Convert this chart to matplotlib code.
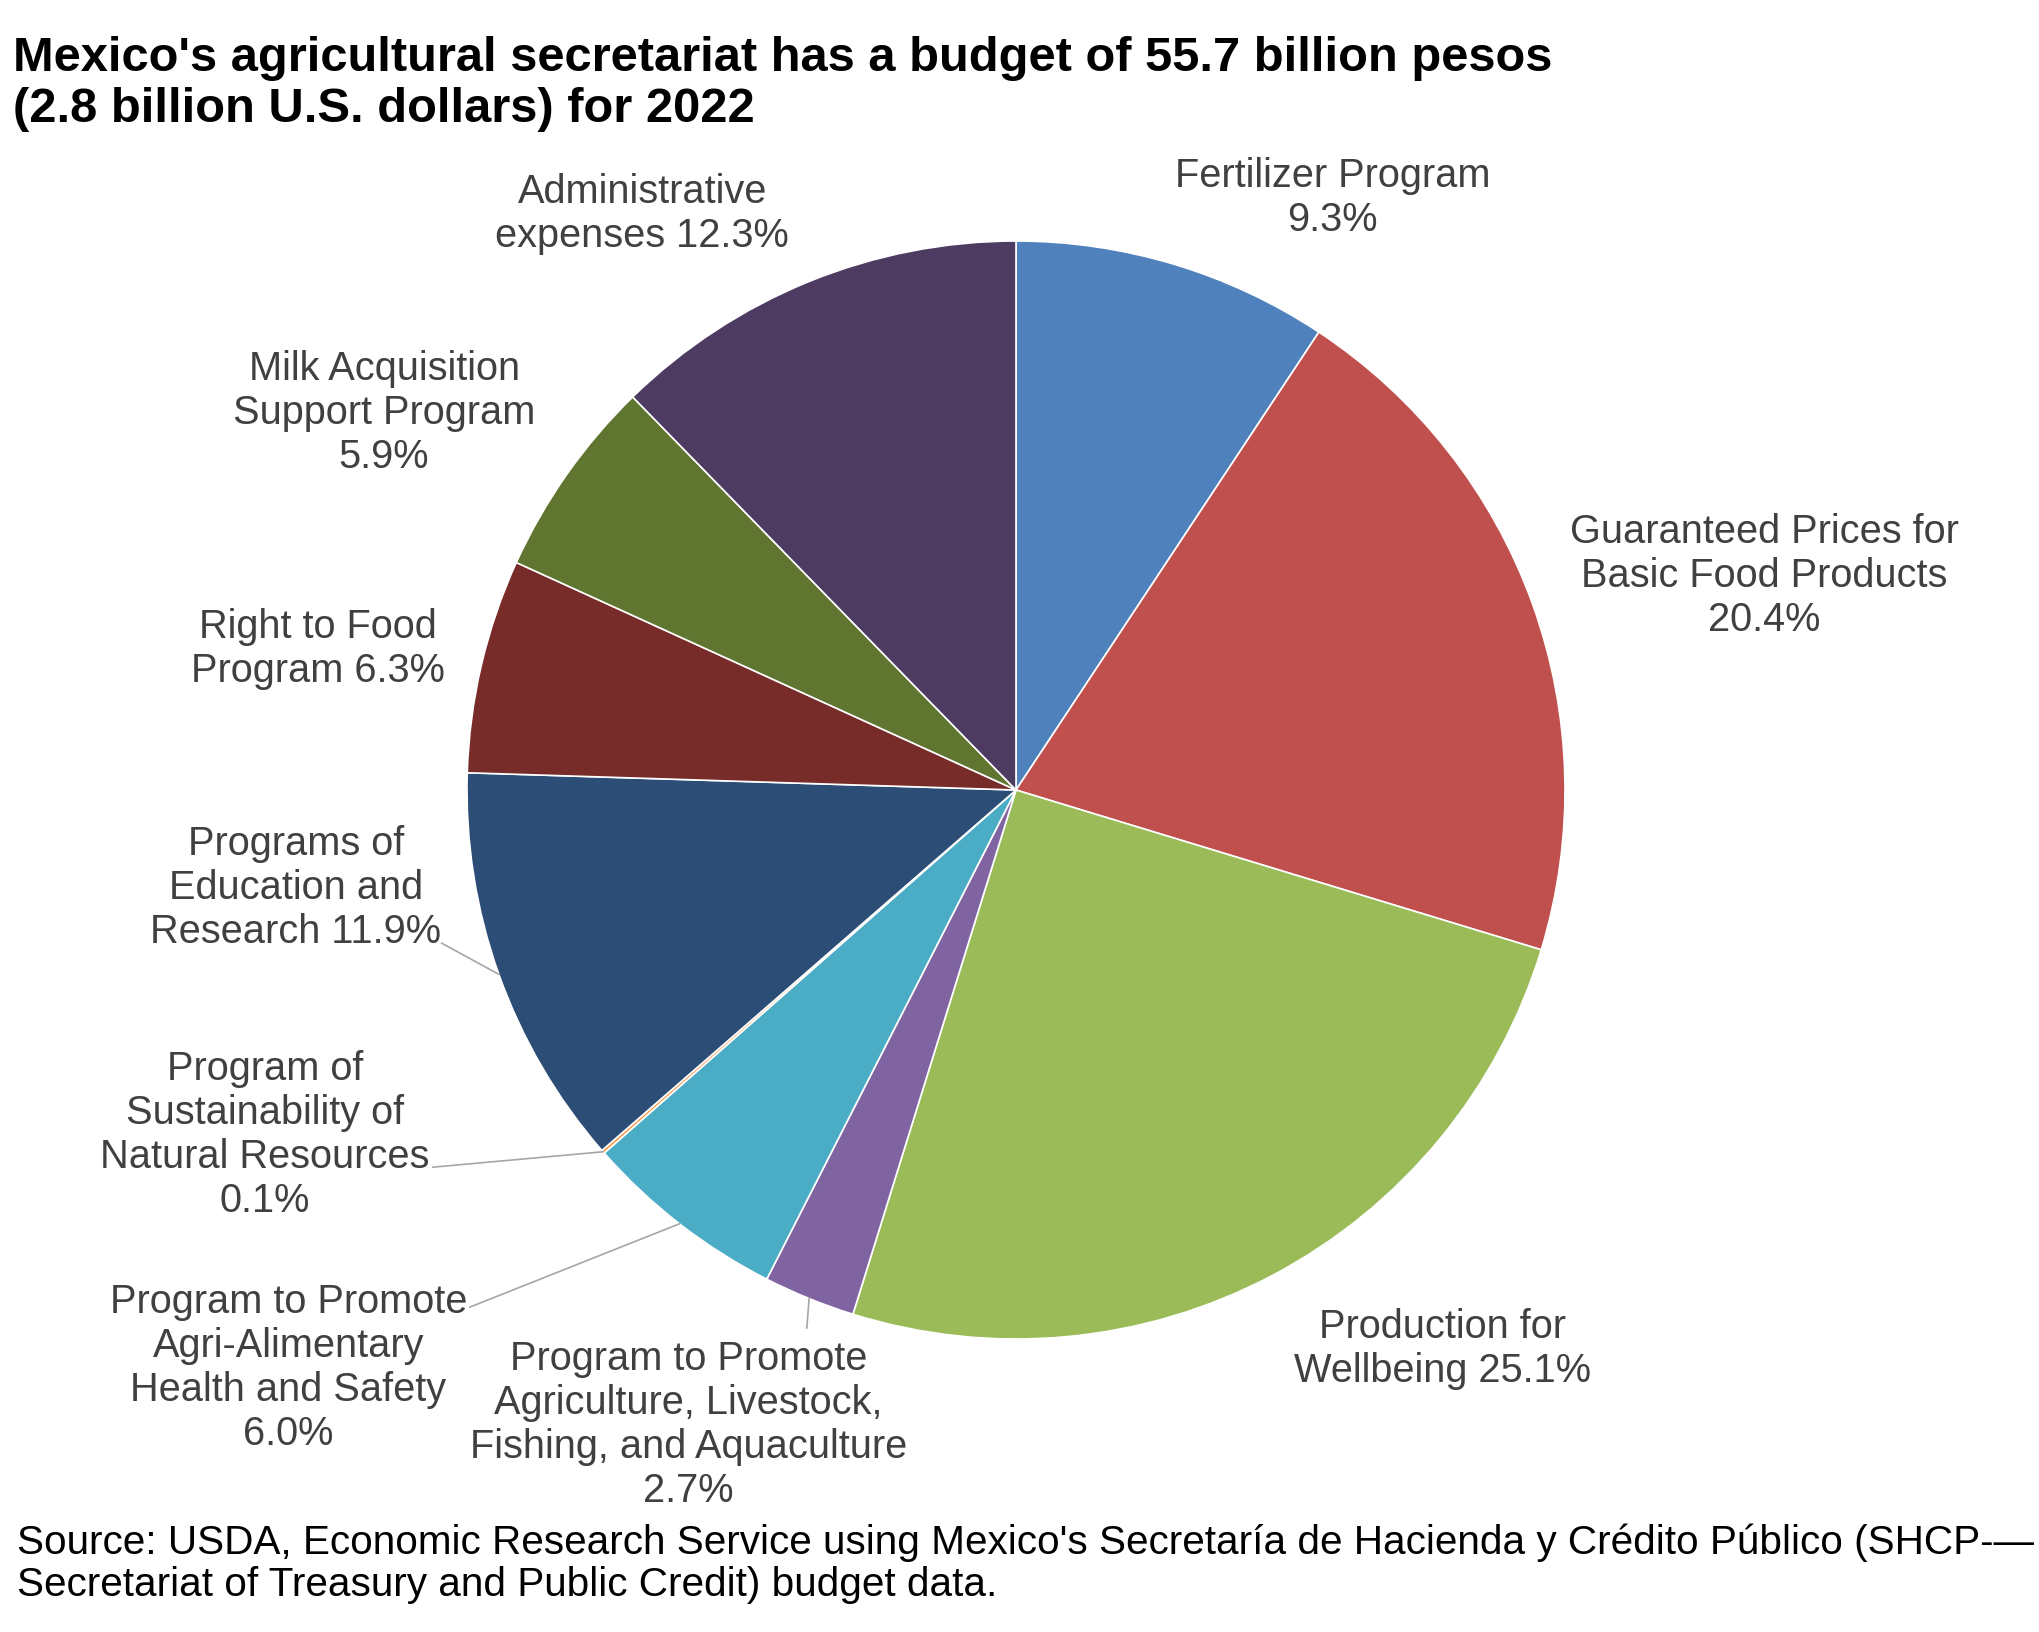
import matplotlib
matplotlib.use('Agg')
import matplotlib.pyplot as plt
import numpy as np

plt.rcParams['font.family'] = ['Liberation Sans', 'DejaVu Sans']

# Datos del presupuesto (porcentajes, sentido horario desde las 12)
programas = [
    "Fertilizer Program\n{}",
    "Guaranteed Prices for\nBasic Food Products\n{}",
    "Production for\nWellbeing {}",
    "Program to Promote\nAgriculture, Livestock,\nFishing, and Aquaculture\n{}",
    "Program to Promote\nAgri-Alimentary\nHealth and Safety\n{}",
    "Program of\nSustainability of\nNatural Resources\n{}",
    "Programs of\nEducation and\nResearch {}",
    "Right to Food\nProgram {}",
    "Milk Acquisition\nSupport Program\n{}",
    "Administrative\nexpenses {}",
]
porcentajes = [9.3, 20.4, 25.1, 2.7, 6.0, 0.1, 11.9, 6.3, 5.9, 12.3]
colores = ['#4F81BD', '#C0504D', '#9BBB59', '#8064A2', '#4BACC6',
           '#F79646', '#2C4D75', '#772C2A', '#5F7530', '#4D3B62']

# Posicion de las etiquetas (centro x, linea base de la ultima linea), en radios
pos_etiquetas = [(0.577, 1.018), (1.363, 0.290), (0.776, -1.078), (-0.597, -1.297),
                 (-1.325, -1.193), (-1.368, -0.769), (-1.312, -0.279), (-1.272, 0.197),
                 (-1.151, 0.587), (-0.681, 0.989)]
# extremo de la linea guia junto a la etiqueta
guias = {3: (-0.381, -0.980), 4: (-0.995, -0.942), 5: (-1.062, -0.687), 6: (-1.046, -0.279)}

fig = plt.figure(figsize=(10.2, 8.16), dpi=200)
ax = fig.add_axes([0, 0, 1, 1])

wedges, _ = ax.pie(porcentajes, colors=colores, startangle=90, counterclock=False,
                   radius=1, center=(0, 0),
                   wedgeprops=dict(edgecolor='white', linewidth=0.6))

ax.set_xlim(-1.8506, 1.8652)
ax.set_ylim(-1.5337, 1.4390)
ax.set_aspect('auto')
ax.axis('off')

acumulado = np.cumsum([0] + porcentajes)
for i, (nombre, pct) in enumerate(zip(programas, porcentajes)):
    tx, ty = pos_etiquetas[i]
    ax.text(tx, ty, nombre.format(f"{pct:.1f}%"), ha='center', va='baseline',
            fontsize=14.3, color='#404040', multialignment='center', linespacing=1.2)
    if i in guias:
        # angulo medio de la rebanada (horario desde arriba)
        medio = (acumulado[i] + pct / 2) / 100 * 2 * np.pi
        x0, y0 = np.sin(medio), np.cos(medio)
        x1, y1 = guias[i]
        ax.plot([x0, x1], [y0, y1], color='#A6A6A6', linewidth=0.6)

fig.text(0.0064, 1 - 122 / 1632,
         "Mexico's agricultural secretariat has a budget of 55.7 billion pesos\n"
         "(2.8 billion U.S. dollars) for 2022",
         ha='left', va='baseline', fontsize=17.6, fontweight='bold', color='black',
         linespacing=1.18)

fig.text(0.0085, 1 - 1596 / 1632,
         "Source: USDA, Economic Research Service using Mexico's Secretaría de Hacienda y Crédito Público (SHCP-—\n"
         "Secretariat of Treasury and Public Credit) budget data.",
         ha='left', va='baseline', fontsize=14.6, color='black', linespacing=1.15)

fig.savefig('out.png', dpi=200, facecolor='white')
